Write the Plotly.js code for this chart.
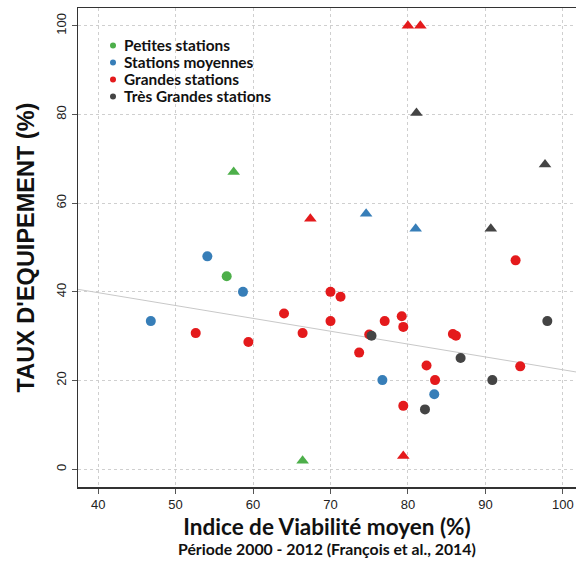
<!DOCTYPE html>
<html>
<head>
<meta charset="utf-8">
<script src="https://cdn.plot.ly/plotly-3.0.1.min.js"></script>
<style>html,body{margin:0;padding:0;background:#fff;}#chart{width:576px;height:561px;}</style>
</head>
<body>
<div id="chart"></div>
<script>
// Petites stations
const petitesCircX = [56.6];
const petitesCircY = [43.5];
const petitesTriX = [57.5, 66.4];
const petitesTriY = [67.0, 1.9];
// Stations moyennes
const moyennesCircX = [54.1, 58.7, 46.8, 76.7, 83.4];
const moyennesCircY = [48.0, 40.0, 33.4, 20.1, 16.9];
const moyennesTriX = [74.6, 81.0];
const moyennesTriY = [57.6, 54.2];
// Grandes stations
const grandesCircX = [52.6, 59.4, 64.0, 66.4, 70.0, 70.0, 71.3, 77.0, 75.0, 73.7, 79.2, 79.4, 85.8, 86.2, 82.4, 83.5, 79.4, 93.9, 94.5];
const grandesCircY = [30.7, 28.7, 35.1, 30.7, 40.0, 33.4, 38.9, 33.4, 30.4, 26.3, 34.5, 32.1, 30.5, 30.1, 23.4, 20.1, 14.3, 47.1, 23.2];
const grandesTriX = [80.0, 81.6, 67.4, 79.4];
const grandesTriY = [100.0, 100.0, 56.5, 3.0];
// Très Grandes stations
const tresCircX = [75.3, 86.8, 90.9, 82.2, 98.0];
const tresCircY = [30.1, 25.1, 20.1, 13.5, 33.4];
const tresTriX = [81.1, 97.7, 90.7];
const tresTriY = [80.3, 68.7, 54.2];

const seriesNames = ["Petites stations", "Stations moyennes", "Grandes stations", "Très Grandes stations"];
const seriesColors = ["#4daf4a", "#377eb8", "#e41a1c", "#444444"];

// Linear trend
const trendIntercept = 51.4;
const trendSlope = -0.2897;

const xRange = [37.4, 101.7];
const yRange = [-4, 104];
const xTicks = [40, 50, 60, 70, 80, 90, 100];
const yTicks = [0, 20, 40, 60, 80, 100];

const groups = [
  [petitesCircX, petitesCircY, petitesTriX, petitesTriY],
  [moyennesCircX, moyennesCircY, moyennesTriX, moyennesTriY],
  [grandesCircX, grandesCircY, grandesTriX, grandesTriY],
  [tresCircX, tresCircY, tresTriX, tresTriY]
];

const traces = [];
traces.push({
  x: xRange, y: xRange.map(v => trendIntercept + trendSlope * v),
  mode: "lines", line: {color: "#c8c8c8", width: 1}, showlegend: false, hoverinfo: "skip"
});
groups.forEach((g, i) => {
  traces.push({x: g[0], y: g[1], mode: "markers", type: "scatter", name: seriesNames[i], showlegend: false,
    marker: {symbol: "circle", size: 10, color: seriesColors[i], line: {width: 0}}});
  traces.push({x: g[2], y: g[3], mode: "markers", type: "scatter", name: seriesNames[i], showlegend: false,
    marker: {symbol: "triangle-up", size: 11, color: seriesColors[i], line: {width: 0}}});
});

// Legend built as annotations + dot shapes (tight row spacing)
const plotTop = 8, plotH = 479, plotL = 78, plotW = 498;
const legendFirstRowPx = 45.4, legendRowStep = 17;
const legendDotX = (113 - plotL) / plotW;
const legendTextX = (123 - plotL) / plotW;
const annotations = [];
const shapes = [];
seriesNames.forEach((n, i) => {
  const yp = 1 - (legendFirstRowPx + i * legendRowStep - plotTop) / plotH;
  annotations.push({text: "<b>" + n + "</b>", xref: "paper", yref: "paper", x: legendTextX, y: yp,
    xanchor: "left", yanchor: "middle", showarrow: false, borderpad: 0,
    font: {family: "Lato, sans-serif", size: 15.4, color: "#111"}});
  shapes.push({type: "circle", xref: "paper", yref: "paper", xsizemode: "pixel", ysizemode: "pixel",
    xanchor: legendDotX, yanchor: yp, x0: -3, x1: 3, y0: -3, y1: 3,
    fillcolor: seriesColors[i], line: {width: 0}});
});
annotations.push({
  text: "<b>Période 2000 - 2012 (François et al., 2014)</b>",
  xref: "paper", yref: "paper", x: 0.5, y: 0, yshift: -61, xanchor: "center", yanchor: "middle",
  showarrow: false, font: {family: "Lato, sans-serif", size: 15.8, color: "#111"}
});

const layout = {
  width: 576, height: 561,
  margin: {l: 78, r: 0, t: 8, b: 74},
  paper_bgcolor: "#fff", plot_bgcolor: "#fff",
  showlegend: false,
  xaxis: {
    range: xRange, tickvals: xTicks, ticktext: xTicks.map(String),
    showgrid: true, gridcolor: "#cfcfcf", griddash: "dot", gridwidth: 1,
    zeroline: false, showline: true, linecolor: "#333", linewidth: 1.5, mirror: true,
    ticks: "outside", ticklen: 5, tickcolor: "#555",
    tickfont: {family: "Liberation Sans, Arial, sans-serif", size: 13, color: "#222"},
    title: {text: "<b>Indice de Viabilité moyen (%)</b>", standoff: 8,
      font: {family: "Lato, sans-serif", size: 22.5, color: "#111"}}
  },
  yaxis: {
    range: yRange, tickvals: yTicks, ticktext: yTicks.map(String), tickangle: -90,
    showgrid: true, gridcolor: "#cfcfcf", griddash: "dot", gridwidth: 1,
    zeroline: false, showline: true, linecolor: "#333", linewidth: 1.5, mirror: false,
    ticks: "outside", ticklen: 5, tickcolor: "#555",
    tickfont: {family: "Liberation Sans, Arial, sans-serif", size: 13, color: "#222"},
    title: {text: "<b>TAUX D'EQUIPEMENT (%)</b>", standoff: 13,
      font: {family: "Liberation Sans, Arial, sans-serif", size: 23.5, color: "#111"}}
  },
  annotations: annotations,
  shapes: shapes
};

Plotly.newPlot("chart", traces, layout, {displayModeBar: false, staticPlot: true});
</script>
</body>
</html>
